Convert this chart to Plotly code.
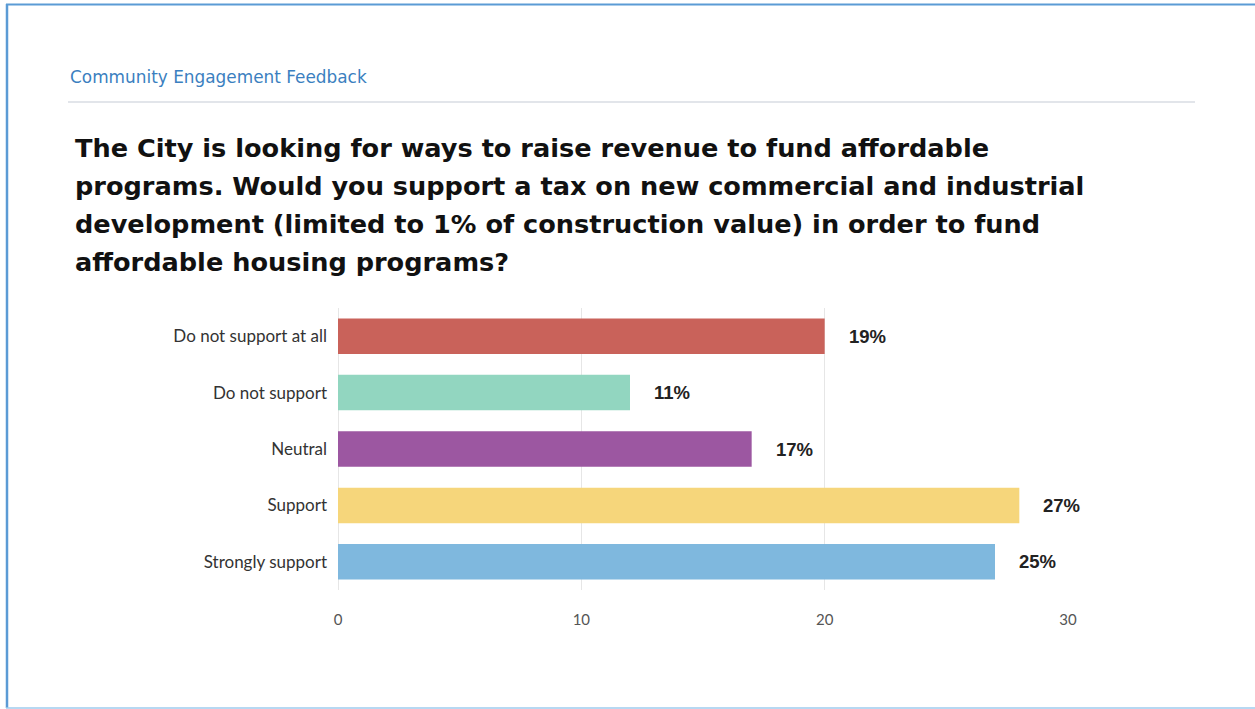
import plotly.graph_objects as go

categories = ["Do not support at all", "Do not support", "Neutral", "Support", "Strongly support"]
counts = [20, 12, 17, 28, 27]
pct_labels = ["19%", "11%", "17%", "27%", "25%"]
bar_colors = ["#c9625a", "#92d6c0", "#9c57a1", "#f6d67b", "#7fb8de"]
x_ticks = [0, 10, 20, 30]

header = "Community Engagement Feedback"
question_lines = [
    "The City is looking for ways to raise revenue to fund affordable",
    "programs. Would you support a tax on new commercial and industrial",
    "development (limited to 1% of construction value) in order to fund",
    "affordable housing programs?",
]

W, H = 1255, 709
L, R, T, B = 338, 1068, 308, 590


def px(x):
    return (x - L) / (R - L)


def py(y):
    return (B - y) / (B - T)


fig = go.Figure()
fig.add_trace(go.Bar(
    y=categories, x=counts, orientation="h",
    marker=dict(color=bar_colors, line=dict(width=0)),
    hoverinfo="skip", showlegend=False,
))

for cat, v, lab in zip(categories, counts, pct_labels):
    fig.add_annotation(
        x=v, y=cat, xref="x", yref="y", text="<b>" + lab + "</b>",
        showarrow=False, xanchor="left", yanchor="middle", xshift=22,
        font=dict(family="Liberation Sans, Arial", size=18.5, color="#222222"),
    )

fig.add_annotation(
    x=px(68), y=py(77), xref="paper", yref="paper", text=header,
    showarrow=False, xanchor="left", yanchor="middle",
    font=dict(family="DejaVu Sans", size=16.9, color="#3b7fc0"),
)

line_y = [148, 186, 224, 262]
for txt, yy in zip(question_lines, line_y):
    fig.add_annotation(
        x=px(73), y=py(yy), xref="paper", yref="paper", text="<b>" + txt + "</b>",
        showarrow=False, xanchor="left", yanchor="middle",
        font=dict(family="DejaVu Sans", size=25.6, color="#111111"),
    )

# separator and frame
fig.add_shape(type="line", xref="paper", yref="paper",
              x0=px(68), x1=px(1195), y0=py(102), y1=py(102),
              line=dict(color="#e2e5ea", width=2))
fig.add_shape(type="line", xref="paper", yref="paper",
              x0=px(7), x1=px(7), y0=py(4), y1=py(708),
              line=dict(color="#5b9bd5", width=2.5))
fig.add_shape(type="line", xref="paper", yref="paper",
              x0=px(6), x1=px(1255), y0=py(4.5), y1=py(4.5),
              line=dict(color="#5b9bd5", width=2))
fig.add_shape(type="line", xref="paper", yref="paper",
              x0=px(6), x1=px(1255), y0=py(708), y1=py(708),
              line=dict(color="#9fcbee", width=1.5))

fig.update_layout(
    width=W, height=H,
    margin=dict(l=L, r=W - R, t=T, b=H - B, pad=0),
    paper_bgcolor="white", plot_bgcolor="white",
    bargap=0.37,
    xaxis=dict(range=[0, 30], tickvals=x_ticks, showgrid=True, gridcolor="#e6e6e6",
               gridwidth=1, zeroline=True, zerolinecolor="#e6e6e6", zerolinewidth=1,
               showline=False, ticks="", ticklabelstandoff=19,
               tickfont=dict(family="Lato, Liberation Sans", size=15, color="#555555"),
               fixedrange=True),
    yaxis=dict(autorange="reversed", showgrid=False, zeroline=False, showline=False,
               ticks="", ticklabelstandoff=10,
               tickfont=dict(family="Lato, Liberation Sans", size=17, color="#333333"),
               fixedrange=True),
)

fig.write_html(
    "out.html",
    config={"displayModeBar": False},
    post_script="document.body.style.margin='0';document.body.style.overflow='hidden';",
)
